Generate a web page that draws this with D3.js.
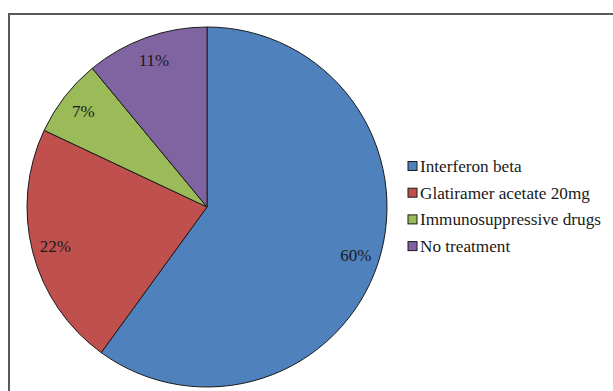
<!DOCTYPE html>
<html>
<head>
<meta charset="utf-8">
<script src="https://cdn.jsdelivr.net/npm/d3@7"></script>
<style>
  body { margin: 0; background: #fff; }
  svg { display: block; font-family: "Liberation Serif", "Times New Roman", serif; }
</style>
</head>
<body>
<svg width="613" height="391"></svg>
<script>
var categories = ["Interferon beta", "Glatiramer acetate 20mg", "Immunosuppressive drugs", "No treatment"];
var values = [60, 22, 7, 11];
var colors = ["#4f81bd", "#c0504d", "#9bbb59", "#8064a2"];

var svg = d3.select("svg");

// chart frame
svg.append("rect")
    .attr("x", 9).attr("y", 14)
    .attr("width", 620).attr("height", 400)
    .attr("fill", "none")
    .attr("stroke", "#595959")
    .attr("stroke-width", 2);

var cx = 207, cy = 207, radius = 180;

var data = categories.map(function(c, i) { return {name: c, value: values[i], color: colors[i]}; });

var pie = d3.pie().sort(null).value(function(d) { return d.value; });
var arc = d3.arc().innerRadius(0).outerRadius(radius);
var labelArc = d3.arc().innerRadius(radius * 0.87).outerRadius(radius * 0.87);

var g = svg.append("g").attr("transform", "translate(" + cx + "," + cy + ")");

g.selectAll("path")
    .data(pie(data))
    .enter().append("path")
      .attr("d", arc)
      .attr("fill", function(d) { return d.data.color; })
      .attr("stroke", "#1a1a1a")
      .attr("stroke-width", 1);

g.selectAll("text")
    .data(pie(data))
    .enter().append("text")
      .attr("transform", function(d) { return "translate(" + labelArc.centroid(d) + ")"; })
      .attr("text-anchor", "middle")
      .attr("dy", "0.35em")
      .style("font-size", "17px")
      .attr("fill", "#1a1a1a")
      .text(function(d) { return d.data.value + "%"; });

// legend
var legend = svg.append("g").attr("transform", "translate(408,166)");
var row = legend.selectAll("g")
    .data(data)
    .enter().append("g")
      .attr("transform", function(d, i) { return "translate(0," + (i * 26.7) + ")"; });

row.append("rect")
    .attr("x", 0).attr("y", -4.5)
    .attr("width", 9).attr("height", 9)
    .attr("fill", function(d) { return d.color; })
    .attr("stroke", "#1a1a1a")
    .attr("stroke-width", 1);

row.append("text")
    .attr("x", 12)
    .attr("dy", "0.35em")
    .style("font-size", "17.2px")
    .attr("fill", "#1a1a1a")
    .text(function(d) { return d.name; });
</script>
</body>
</html>
